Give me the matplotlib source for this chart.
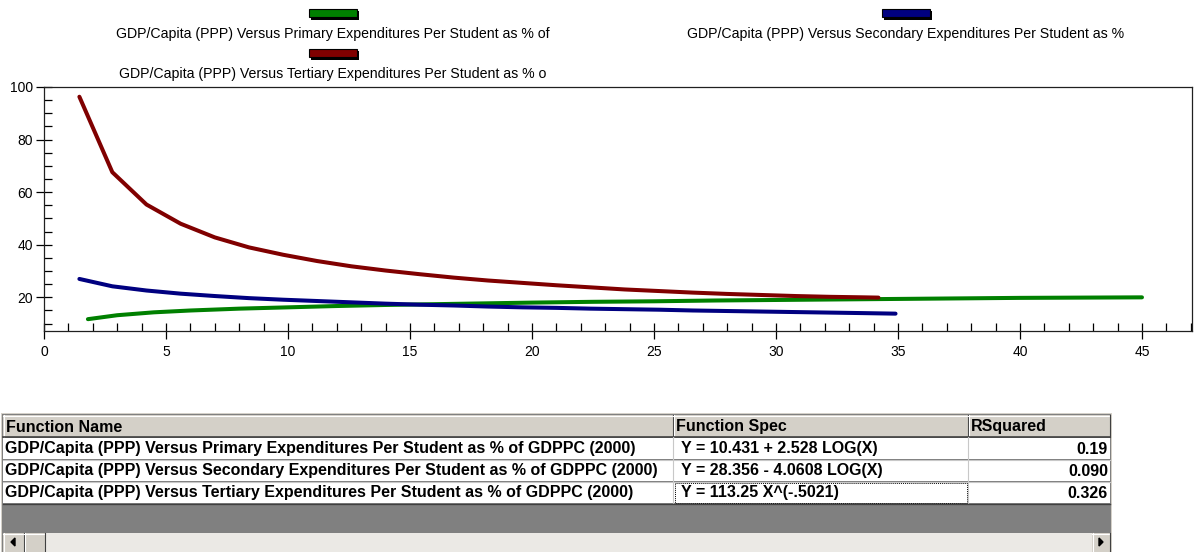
import numpy as np
import matplotlib.pyplot as plt
from matplotlib.patches import Rectangle, Polygon
from matplotlib.ticker import MultipleLocator

plt.rcParams['font.family'] = ['Liberation Sans', 'DejaVu Sans']

# curve points
prim_x = [1.8, 3.0, 4.5, 6.0, 8.0, 10.0, 12.0, 14.0, 16.0, 18.0, 20.0, 22.5,
          25.0, 27.5, 30.0, 32.5, 35.0, 37.5, 40.0, 42.5, 45.0]
prim_y = [11.7, 13.2, 14.3, 15.0, 15.7, 16.2, 16.7, 17.1, 17.4, 17.7, 18.0, 18.3,
          18.5, 18.8, 19.0, 19.2, 19.4, 19.6, 19.8, 19.9, 20.0]

sec_x = [1.45, 2.8, 4.2, 5.6, 7.0, 8.4, 9.8, 11.2, 12.6, 14.0, 15.4, 16.8, 18.2,
         19.6, 21.0, 22.4, 23.8, 25.2, 26.6, 28.0, 29.4, 30.8, 32.2, 33.6, 34.9]
sec_y = [27.0, 24.2, 22.6, 21.4, 20.5, 19.7, 19.1, 18.6, 18.1, 17.6, 17.2, 16.9, 16.5,
         16.2, 16.0, 15.7, 15.5, 15.3, 15.0, 14.8, 14.6, 14.4, 14.2, 14.0, 13.8]

tert_x = [1.45, 2.8, 4.2, 5.6, 7.0, 8.4, 9.8, 11.2, 12.6, 14.0, 15.4, 16.8, 18.2,
          19.6, 21.0, 22.4, 23.8, 25.2, 26.6, 28.0, 29.4, 30.8, 32.2, 33.6, 34.2]
tert_y = [96.3, 67.6, 55.3, 48.0, 42.8, 39.0, 36.2, 33.8, 31.8, 30.2, 28.8, 27.5, 26.4,
          25.5, 24.6, 23.8, 23.0, 22.4, 21.8, 21.3, 20.9, 20.5, 20.2, 20.0, 19.9]

legend_labels = ["GDP/Capita (PPP) Versus Primary Expenditures Per Student as % of",
                 "GDP/Capita (PPP) Versus Secondary Expenditures Per Student as %",
                 "GDP/Capita (PPP) Versus Tertiary Expenditures Per Student as % o"]
colors = ['#008000', '#000080', '#800000']

table_header = ["Function Name", "Function Spec", "RSquared"]
func_names = ["GDP/Capita (PPP) Versus Primary Expenditures Per Student as % of GDPPC (2000)",
              "GDP/Capita (PPP) Versus Secondary Expenditures Per Student as % of GDPPC (2000)",
              "GDP/Capita (PPP) Versus Tertiary Expenditures Per Student as % of GDPPC (2000)"]
func_specs = ["Y = 10.431 + 2.528 LOG(X)",
              "Y = 28.356 - 4.0608 LOG(X)",
              "Y = 113.25 X^(-.5021)"]
rsquared = ["0.19", "0.090", "0.326"]

W, H = 1194, 552
fig = plt.figure(figsize=(W / 100, H / 100), dpi=100)
fig.patch.set_facecolor('white')

# overlay in pixel coordinates for legend and grid table
ov = fig.add_axes([0, 0, 1, 1])
ov.set_xlim(0, W)
ov.set_ylim(H, 0)
ov.axis('off')

# legend (two columns, drawn by hand like the original control)
leg_pos = [(333, 14, 34), (906, 14, 34), (333, 54, 74)]
for (cx, sy, ty), lab, c in zip(leg_pos, legend_labels, colors):
    ov.add_patch(Rectangle((cx - 22, sy - 3), 48, 9, facecolor='black', lw=0))
    ov.add_patch(Rectangle((cx - 24, sy - 5), 48, 8, facecolor=c, edgecolor='black', lw=0.8))
    ov.text(cx, ty, lab, ha='center', va='center', fontsize=10.2, color='black')

# table
gray = '#d4d0c8'
dark = '#808080'
tfont = dict(fontsize=11.5, fontweight='bold', color='black')
ov.add_patch(Rectangle((1, 413), 1111, 139, facecolor=gray, edgecolor='none'))
ov.add_patch(Rectangle((2, 414), 1109, 138, facecolor=dark, edgecolor='none'))
col_x = [3, 673, 968, 1110]
# header
ov.add_patch(Rectangle((3, 415), 1107, 22, facecolor=gray, edgecolor='none'))
for i in range(3):
    x0, x1 = col_x[i], col_x[i + 1]
    ov.plot([x0, x1], [415.5, 415.5], color='white', lw=0.8)
    ov.plot([x0 + 0.5, x0 + 0.5], [415, 437], color='white', lw=0.8)
    ov.plot([x1 - 0.5, x1 - 0.5], [415, 437], color='#404040', lw=0.8)
    ov.text(x0 + 3, 427, table_header[i], ha='left', va='center', **tfont)
ov.plot([3, 1110], [437, 437], color='#404040', lw=1.2)
# rows
row_y = [438, 460, 482]
for r in range(3):
    y0 = row_y[r]
    ov.add_patch(Rectangle((3, y0), 1107, 21, facecolor='white', edgecolor='none'))
    ov.plot([3, 1110], [y0 + 21.5, y0 + 21.5], color='#c8c8c8', lw=0.8)
    ov.text(5, y0 + 11, func_names[r], ha='left', va='center', **tfont)
    ov.text(681, y0 + 11, func_specs[r], ha='left', va='center', **tfont)
    ov.text(1108, y0 + 11, rsquared[r], ha='right', va='center', **tfont)
for x in col_x[1:3]:
    ov.plot([x, x], [437, 503], color='#c8c8c8', lw=0.8)
ov.plot([3, 1110], [504, 504], color='#404040', lw=1.0)
# focus rectangle on the selected cell
ov.add_patch(Rectangle((674.5, 482.5), 292, 20, facecolor='none', edgecolor='black',
                       lw=0.7, linestyle=(0, (1, 1))))

# scrollbar
ov.add_patch(Rectangle((3, 533), 1107, 19, facecolor='#ebe9e5', edgecolor='none'))
for bx, bw in [(3, 21), (24, 21), (1092, 18)]:
    ov.add_patch(Rectangle((bx, 533), bw, 19, facecolor=gray, edgecolor='none'))
    ov.plot([bx, bx + bw], [533.5, 533.5], color='white', lw=0.8)
    ov.plot([bx + 0.5, bx + 0.5], [533, 552], color='white', lw=0.8)
    ov.plot([bx + bw - 0.5, bx + bw - 0.5], [533, 552], color='#404040', lw=0.8)
ov.add_patch(Polygon([[11, 542], [15, 538], [15, 546]], closed=True, color='black'))
ov.add_patch(Polygon([[1103, 542], [1099, 538], [1099, 546]], closed=True, color='black'))

# chart
ax = fig.add_axes([44 / W, 1 - 331 / H, (1192 - 44) / W, (331 - 87) / H])
ax.plot(prim_x, prim_y, color=colors[0], lw=2.9, solid_capstyle='round')
ax.plot(sec_x, sec_y, color=colors[1], lw=2.9, solid_capstyle='round')
ax.plot(tert_x, tert_y, color=colors[2], lw=2.9, solid_capstyle='round')

ax.set_xlim(0, 47.05)
ax.set_ylim(7.2, 100)
ax.xaxis.set_major_locator(MultipleLocator(5))
ax.xaxis.set_minor_locator(MultipleLocator(1))
ax.yaxis.set_major_locator(MultipleLocator(20))
ax.yaxis.set_minor_locator(MultipleLocator(5))
ax.set_yticks([20, 40, 60, 80, 100])
ax.tick_params(which='major', direction='inout', length=12, width=0.9, labelsize=10)
ax.tick_params(axis='x', which='major', pad=4)
ax.tick_params(axis='y', which='major', pad=2)
ax.tick_params(which='minor', direction='in', length=6, width=0.9)
for s in ax.spines.values():
    s.set_color('#202020')
    s.set_linewidth(0.9)

fig.savefig('out.png', dpi=100)
